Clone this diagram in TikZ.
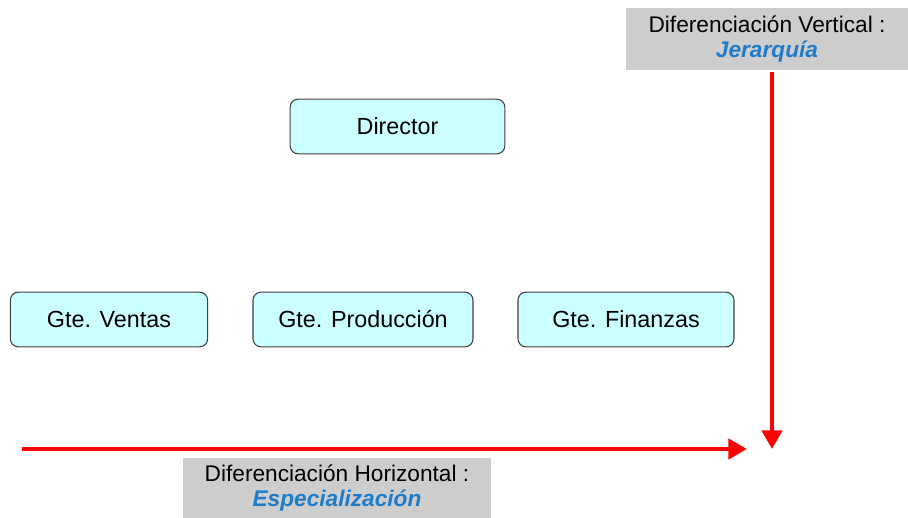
\documentclass[tikz,border=0pt]{standalone}
\usepackage{fontspec}
\setmainfont{Liberation Sans}
\usetikzlibrary{arrows.meta}
\definecolor{cajafondo}{HTML}{CCFFFF}
\definecolor{cajaborde}{HTML}{404040}
\definecolor{grisfondo}{HTML}{CDCDCD}
\definecolor{azultexto}{HTML}{1E7CCB}

\tikzset{
    puesto/.style={draw=cajaborde, fill=cajafondo, rounded corners=6pt, line width=0.8pt,
        minimum height=41pt, font=\fontsize{17.5}{19}\selectfont},
    etiqueta/.style={fill=grisfondo, minimum height=46pt, align=center,
        font=\fontsize{17}{19}\selectfont, execute at begin node={\rule{0pt}{24pt}}},
    flecha/.style={red, line width=3.6pt, -{Triangle[length=14pt, width=15pt]}}
}

\begin{document}
\begin{tikzpicture}[x=0.75pt, y=-0.75pt]
    % Marco
    \useasboundingbox (0,0) rectangle (908,518);

    % Puestos
    \node[puesto, minimum width=161pt] (dir) at (397.5,126.5) {Director};
    \node[puesto, minimum width=148pt] (ventas) at (109,319.5) {Gte. Ventas};
    \node[puesto, minimum width=165pt] (prod) at (363,319.5) {Gte. Producción};
    \node[puesto, minimum width=162pt] (fin) at (626,319.5) {Gte. Finanzas};

    % Etiquetas
    \node[etiqueta, minimum width=212pt] (vert) at (767,39)
        {Diferenciación Vertical :\\ \textcolor{azultexto}{\bfseries\itshape Jerarquía}};
    \node[etiqueta, minimum width=231pt, minimum height=45pt] (horiz) at (337,488)
        {Diferenciación Horizontal :\\ \textcolor{azultexto}{\bfseries\itshape Especialización}};

    % Flechas
    \coordinate (vini) at (772,72);
    \coordinate (vfin) at (772,449);
    \coordinate (hini) at (22,449);
    \coordinate (hfin) at (747,449);
    \draw[flecha] (vini) -- (vfin);
    \draw[flecha] (hini) -- (hfin);
\end{tikzpicture}
\end{document}
